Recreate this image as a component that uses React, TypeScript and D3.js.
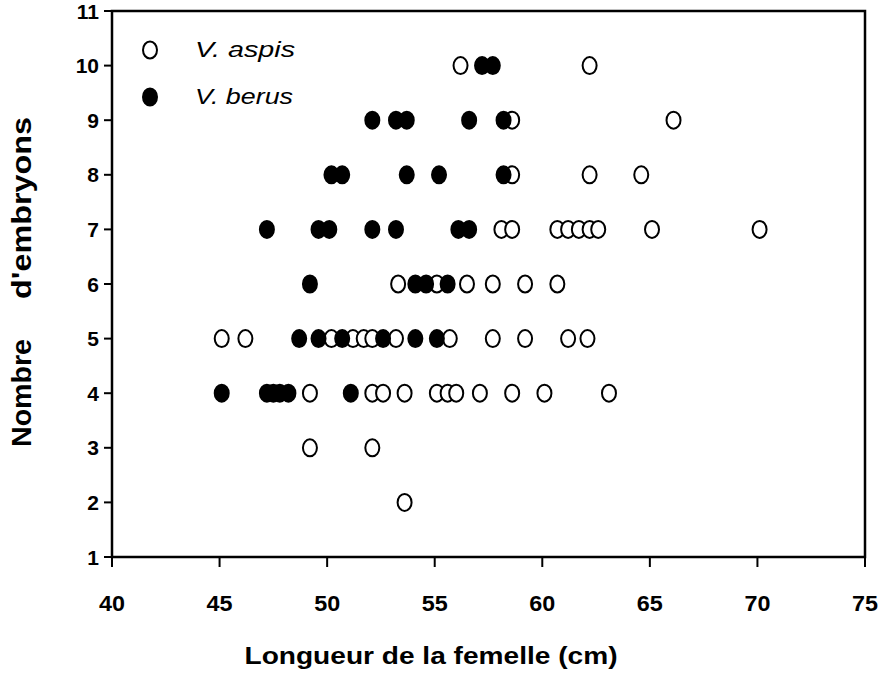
import React from "react";
import * as d3 from "d3";

// V. aspis (open circles): [length cm, embryos]
const aspisLength = [
  56.2, 62.2,
  58.6, 66.1,
  58.6, 62.2, 64.6,
  58.1, 58.6, 60.7, 61.2, 61.7, 62.2, 62.6, 65.1, 70.1,
  53.3, 55.1, 56.5, 57.7, 59.2, 60.7,
  45.1, 46.2, 50.2, 51.2, 51.7, 52.1, 53.2, 55.7, 57.7, 59.2, 61.2, 62.1,
  49.2, 52.1, 52.6, 53.6, 55.1, 55.6, 56.0, 57.1, 58.6, 60.1, 63.1,
  49.2, 52.1,
  53.6,
];
const aspisEmbryos = [
  10, 10,
  9, 9,
  8, 8, 8,
  7, 7, 7, 7, 7, 7, 7, 7, 7,
  6, 6, 6, 6, 6, 6,
  5, 5, 5, 5, 5, 5, 5, 5, 5, 5, 5, 5,
  4, 4, 4, 4, 4, 4, 4, 4, 4, 4, 4,
  3, 3,
  2,
];

// V. berus (filled circles)
const berusLength = [
  57.2, 57.7,
  52.1, 53.2, 53.7, 56.6, 58.2,
  50.2, 50.7, 53.7, 55.2, 58.2,
  47.2, 49.6, 50.1, 52.1, 53.2, 56.1, 56.6,
  49.2, 54.1, 54.6, 55.6,
  48.7, 49.6, 50.7, 52.6, 54.1, 55.1,
  45.1, 47.2, 47.5, 47.8, 48.2, 51.1,
];
const berusEmbryos = [
  10, 10,
  9, 9, 9, 9, 9,
  8, 8, 8, 8, 8,
  7, 7, 7, 7, 7, 7, 7,
  6, 6, 6, 6,
  5, 5, 5, 5, 5, 5,
  4, 4, 4, 4, 4, 4,
];

const xTicks = [40, 45, 50, 55, 60, 65, 70, 75];
const yTicks = [1, 2, 3, 4, 5, 6, 7, 8, 9, 10, 11];
const seriesNames = ["V. aspis", "V. berus"];
const xTitle = "Longueur de la femelle (cm)";
const yTitleA = "Nombre";
const yTitleB = "d'embryons";

const W = 879;
const H = 675;
const left = 112;
const right = 865;
const top = 11;
const bottom = 557;

export default function App() {
  const x = d3.scaleLinear().domain([40, 75]).range([left, right]);
  const y = d3.scaleLinear().domain([1, 11]).range([bottom, top]);
  const rx = 7;
  const ry = 8.5;
  const font = "'Liberation Sans', Arial, Helvetica, sans-serif";

  const aspis = aspisLength.map((v, i) => [v, aspisEmbryos[i]]);
  const berus = berusLength.map((v, i) => [v, berusEmbryos[i]]);

  return (
    <div style={{ position: "fixed", left: 0, top: 0 }}>
      <svg width={W} height={H} style={{ display: "block", background: "#fff" }} fontFamily={font}>
        <rect x={0} y={0} width={W} height={H} fill="#fff" />
        {/* frame */}
        <rect x={left} y={top} width={right - left} height={bottom - top} fill="none" stroke="#000" strokeWidth={2.5} />
        {/* x ticks */}
        {xTicks.map((t) => (
          <g key={"xt" + t}>
            <line x1={x(t)} x2={x(t)} y1={bottom} y2={bottom + 10} stroke="#000" strokeWidth={2} />
            <text x={x(t)} y={611} textAnchor="middle" fontSize={22} fontWeight="bold" textLength={26} lengthAdjust="spacingAndGlyphs">
              {t}
            </text>
          </g>
        ))}
        {/* y ticks */}
        {yTicks.map((t) => (
          <g key={"yt" + t}>
            <line x1={left - 8} x2={left} y1={y(t)} y2={y(t)} stroke="#000" strokeWidth={2} />
            <text x={99} y={y(t) + 7.5} textAnchor="end" fontSize={21} fontWeight="bold">
              {t}
            </text>
          </g>
        ))}
        {/* axis titles */}
        <text x={431} y={664} textAnchor="middle" fontSize={23} fontWeight="bold" textLength={373} lengthAdjust="spacingAndGlyphs">
          {xTitle}
        </text>
        <text transform="translate(31,393) rotate(-90)" textAnchor="middle" fontSize={27} fontWeight="bold" textLength={108} lengthAdjust="spacingAndGlyphs">
          {yTitleA}
        </text>
        <text transform="translate(31,208) rotate(-90)" textAnchor="middle" fontSize={27} fontWeight="bold" textLength={182} lengthAdjust="spacingAndGlyphs">
          {yTitleB}
        </text>
        {/* legend */}
        <ellipse cx={150} cy={50} rx={rx} ry={ry} fill="#fff" stroke="#000" strokeWidth={2} />
        <text x={195} y={57} fontSize={22} fontStyle="italic" textLength={100} lengthAdjust="spacingAndGlyphs">
          {seriesNames[0]}
        </text>
        <ellipse cx={150} cy={97} rx={rx} ry={ry} fill="#000" stroke="#000" strokeWidth={2} />
        <text x={195} y={104} fontSize={22} fontStyle="italic" textLength={98} lengthAdjust="spacingAndGlyphs">
          {seriesNames[1]}
        </text>
        {/* points */}
        {aspis.map((d, i) => (
          <ellipse key={"a" + i} cx={x(d[0])} cy={y(d[1])} rx={rx} ry={ry} fill="#fff" stroke="#000" strokeWidth={2} />
        ))}
        {berus.map((d, i) => (
          <ellipse key={"b" + i} cx={x(d[0])} cy={y(d[1])} rx={rx} ry={ry} fill="#000" stroke="#000" strokeWidth={2} />
        ))}
      </svg>
    </div>
  );
}
